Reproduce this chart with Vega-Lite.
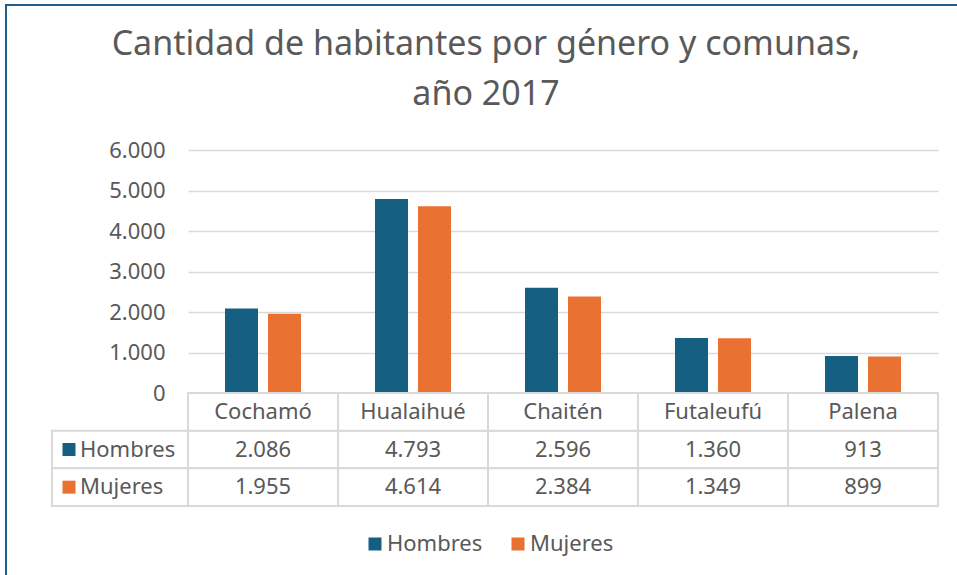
{
  "$schema": "https://vega.github.io/schema/vega-lite/v6.json",
  "width": 960,
  "height": 580,
  "autosize": {"type": "none"},
  "padding": {"left": 6, "top": 5, "right": 0, "bottom": 0},
  "background": "white",
  "title": {
    "text": ["Cantidad de habitantes por género y comunas,", "año 2017"],
    "font": "Noto Sans",
    "fontSize": 34,
    "fontWeight": "normal",
    "color": "#595959",
    "anchor": "middle",
    "frame": "group",
    "lineHeight": 50,
    "offset": -107
  },
  "datasets": {
    "pop": [
      {"comuna": "Cochamó", "genero": "Hombres", "valor": 2086},
      {"comuna": "Cochamó", "genero": "Mujeres", "valor": 1955},
      {"comuna": "Hualaihué", "genero": "Hombres", "valor": 4793},
      {"comuna": "Hualaihué", "genero": "Mujeres", "valor": 4614},
      {"comuna": "Chaitén", "genero": "Hombres", "valor": 2596},
      {"comuna": "Chaitén", "genero": "Mujeres", "valor": 2384},
      {"comuna": "Futaleufú", "genero": "Hombres", "valor": 1360},
      {"comuna": "Futaleufú", "genero": "Mujeres", "valor": 1349},
      {"comuna": "Palena", "genero": "Hombres", "valor": 913},
      {"comuna": "Palena", "genero": "Mujeres", "valor": 899}
    ],
    "comunas": [
      {"comuna": "Cochamó"},
      {"comuna": "Hualaihué"},
      {"comuna": "Chaitén"},
      {"comuna": "Futaleufú"},
      {"comuna": "Palena"}
    ],
    "generos": [
      {"genero": "Hombres"},
      {"genero": "Mujeres"}
    ]
  },
  "config": {
    "locale": {"number": {"decimal": ",", "thousands": ".", "grouping": [3], "currency": ["$", ""]}},
    "view": {"stroke": "#1f5f8a", "strokeWidth": 2},
    "font": "Noto Sans",
    "text": {"font": "Noto Sans", "fontSize": 22, "color": "#595959"},
    "legend": {
      "orient": "none",
      "legendX": 358,
      "legendY": 528,
      "direction": "horizontal",
      "symbolType": "square",
      "symbolSize": 169,
      "symbolStrokeWidth": 0,
      "labelFont": "Noto Sans",
      "labelFontSize": 22,
      "labelColor": "#595959",
      "labelOffset": 1,
      "columnPadding": 24,
      "padding": 0
    }
  },
  "layer": [
    {
      "data": {"name": "pop"},
      "mark": {"type": "bar"},
      "encoding": {
        "x": {
          "field": "comuna",
          "type": "nominal",
          "sort": null,
          "scale": {
            "domain": ["Cochamó", "Hualaihué", "Chaitén", "Futaleufú", "Palena"],
            "range": [182, 932],
            "paddingInner": 0.4933,
            "paddingOuter": 0.2467
          },
          "axis": null
        },
        "xOffset": {
          "field": "genero",
          "type": "nominal",
          "scale": {"domain": ["Hombres", "Mujeres"], "paddingInner": 0.2326, "paddingOuter": 0}
        },
        "y": {
          "field": "valor",
          "type": "quantitative",
          "scale": {"domain": [0, 6000], "range": [388, 145], "nice": false},
          "axis": {
            "values": [0, 1000, 2000, 3000, 4000, 5000, 6000],
            "format": ",d",
            "title": null,
            "domain": false,
            "ticks": false,
            "grid": true,
            "gridColor": "#d9d9d9",
            "gridWidth": 1.5,
            "labelFont": "Noto Sans",
            "labelFontSize": 22,
            "labelColor": "#595959",
            "labelPadding": 23,
            "offset": -182
          }
        },
        "color": {
          "field": "genero",
          "type": "nominal",
          "scale": {"domain": ["Hombres", "Mujeres"], "range": ["#156082", "#E97132"]},
          "legend": {"title": null}
        }
      }
    },
    {
      "encoding": {
        "x": {
          "field": "comuna",
          "type": "nominal",
          "sort": null,
          "scale": {
            "domain": ["Cochamó", "Hualaihué", "Chaitén", "Futaleufú", "Palena"],
            "range": [182, 932],
            "paddingInner": 0,
            "paddingOuter": 0
          },
          "axis": null
        }
      },
      "layer": [
        {
          "data": {"name": "pop"},
          "mark": {"type": "rect", "fill": "white", "stroke": "#d9d9d9", "strokeWidth": 2},
          "encoding": {
            "y": {
              "field": "genero",
              "type": "nominal",
              "scale": {"domain": ["cab", "Hombres", "Mujeres"], "range": [388, 501], "paddingInner": 0, "paddingOuter": 0},
              "axis": null
            }
          }
        },
        {
          "data": {"name": "comunas"},
          "mark": {"type": "rect", "fill": "white", "stroke": "#d9d9d9", "strokeWidth": 2},
          "encoding": {
            "y": {"datum": "cab", "type": "nominal"}
          }
        },
        {
          "data": {"name": "pop"},
          "mark": {"type": "text", "baseline": "middle"},
          "encoding": {
            "y": {"field": "genero", "type": "nominal"},
            "text": {"field": "valor", "type": "quantitative", "format": ",d"}
          }
        },
        {
          "data": {"name": "comunas"},
          "mark": {"type": "text", "baseline": "middle"},
          "encoding": {
            "y": {"datum": "cab", "type": "nominal"},
            "text": {"field": "comuna", "type": "nominal"}
          }
        }
      ]
    },
    {
      "data": {"name": "generos"},
      "encoding": {
        "x": {
          "datum": "lbl",
          "type": "nominal",
          "scale": {"domain": ["lbl"], "range": [46, 182], "paddingInner": 0, "paddingOuter": 0},
          "axis": null
        },
        "y": {
          "field": "genero",
          "type": "nominal",
          "scale": {"domain": ["cab", "Hombres", "Mujeres"], "range": [388, 501], "paddingInner": 0, "paddingOuter": 0},
          "axis": null
        }
      },
      "layer": [
        {
          "mark": {"type": "rect", "fill": "white", "stroke": "#d9d9d9", "strokeWidth": 2}
        },
        {
          "mark": {"type": "point", "shape": "square", "filled": true, "size": 169, "opacity": 1, "xOffset": -51},
          "encoding": {
            "color": {"field": "genero", "type": "nominal"}
          }
        },
        {
          "mark": {"type": "text", "align": "left", "baseline": "middle", "dx": -40},
          "encoding": {
            "text": {"field": "genero", "type": "nominal"}
          }
        }
      ]
    }
  ],
  "resolve": {"scale": {"x": "independent", "y": "independent"}}
}
